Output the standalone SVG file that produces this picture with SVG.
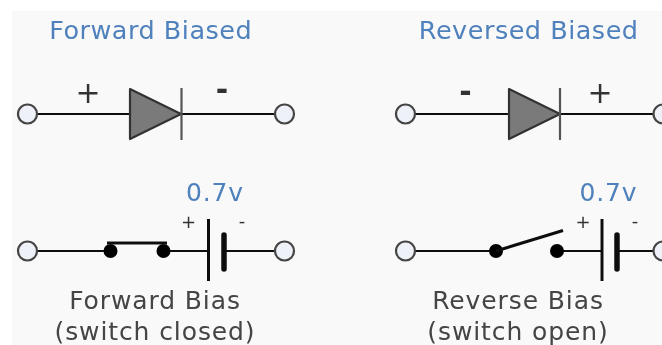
<svg xmlns="http://www.w3.org/2000/svg" width="662" height="345" viewBox="0 0 662 345">
<style>
text{font-family:"DejaVu Sans",Verdana,sans-serif;text-anchor:middle}
.title{font-size:25.5px;fill:#4f81bd;letter-spacing:0.5px}
.volt{font-size:25px;fill:#4f81bd;letter-spacing:0.8px}
.cap{font-size:25px;fill:#444;letter-spacing:0.9px}
.sign{font-size:30px;fill:#333}
.minus{font-size:30px;font-weight:bold;fill:#333}
.small{font-size:18px;fill:#333}
.wire{stroke:#111;stroke-width:2;fill:none}
.term{fill:#eef1f7;stroke:#444;stroke-width:2.2}
.tri{fill:#7a7a7a;stroke:#333;stroke-width:2.2;stroke-linejoin:round}
.bar{stroke:#555;stroke-width:2.2;fill:none}
.plate{stroke:#111;stroke-width:3;fill:none}
.thick{stroke:#111;stroke-width:5.500;stroke-linecap:round;fill:none}
.sw{stroke:#111;stroke-width:3;fill:none}
.dot{fill:#000}
</style>
<defs><filter id="soft" x="-5%" y="-5%" width="110%" height="110%"><feGaussianBlur stdDeviation="0.55"/></filter></defs>
<rect width="662" height="345" fill="#fff"/>
<rect x="12" y="11" width="650" height="334" fill="#f9f9f9"/>
<g filter="url(#soft)">
<g id="connectors">
<path class="wire" d="M37 114H130M181 114H275"/>
<path class="wire" d="M415 114H509M560 114H653"/>
<path class="wire" d="M37 251H110M163 251H208M224 251H275"/>
<path class="wire" d="M415 251H496M557 251H602M617 251H653"/>
</g>
<g id="forward-diode">
<circle class="term" cx="27.5" cy="114" r="9.5"/><circle class="term" cx="284.5" cy="114" r="9.5"/>
<path class="tri" d="M130 89L181 114L130 139Z"/><path class="bar" d="M181.5 88V140"/>
<text class="title" x="150.700" y="39">Forward Biased</text>
<text class="sign" x="88" y="103">+</text><text class="minus" x="222" y="100">-</text>
</g>
<g id="reverse-diode">
<circle class="term" cx="405.500" cy="114" r="9.5"/><circle class="term" cx="663" cy="114" r="9.5"/>
<path class="tri" d="M509 89L560 114L509 139Z"/><path class="bar" d="M560 88V140"/>
<text class="title" x="528.700" y="39">Reversed Biased</text>
<text class="minus" x="465.500" y="102">-</text><text class="sign" x="600" y="103">+</text>
</g>
<g id="forward-switch">
<circle class="term" cx="27.5" cy="251" r="9.5"/><circle class="term" cx="284.5" cy="251" r="9.5"/>
<circle class="dot" cx="110.500" cy="251" r="7"/><circle class="dot" cx="163.500" cy="251" r="7"/>
<path class="sw" d="M107 243H167"/>
<path class="plate" d="M208.500 219V281"/><path class="thick" d="M224 235V269"/>
<text class="volt" x="215" y="201">0.7v</text>
<text class="small" x="188.500" y="228">+</text><text class="small" x="242" y="227">-</text>
<text class="cap" x="155" y="309">Forward Bias</text>
<text class="cap" x="155" y="340">(switch closed)</text>
</g>
<g id="reverse-switch">
<circle class="term" cx="405.500" cy="251" r="9.5"/><circle class="term" cx="663" cy="251" r="9.5"/>
<circle class="dot" cx="496" cy="251" r="7"/><circle class="dot" cx="557" cy="251" r="7"/>
<path class="sw" d="M496 251L563 230.500"/>
<path class="plate" d="M602 219V281"/><path class="thick" d="M617 235V269"/>
<text class="volt" x="608.500" y="201">0.7v</text>
<text class="small" x="583" y="228">+</text><text class="small" x="635" y="227">-</text>
<text class="cap" x="518" y="309">Reverse Bias</text>
<text class="cap" x="518" y="340">(switch open)</text>
</g>
</g>
</svg>
